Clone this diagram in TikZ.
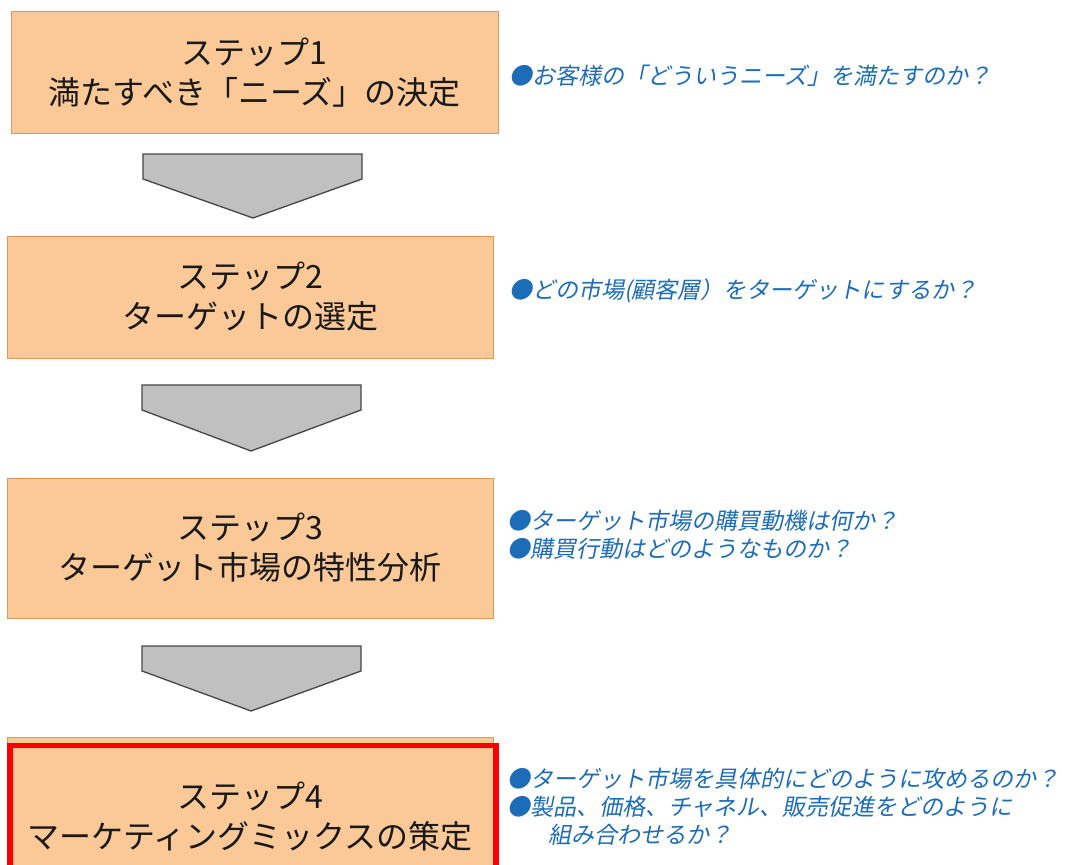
\documentclass[tikz,border=0pt]{standalone}
\usepackage{fontspec}
\setmainfont{Noto Sans CJK JP}
\newfontfamily\jpit[FakeSlant=0.2]{Noto Sans CJK JP}
\definecolor{boxfill}{RGB}{251,201,152}
\definecolor{boxline}{RGB}{226,150,90}
\definecolor{chevfill}{RGB}{192,192,192}
\definecolor{chevline}{RGB}{70,70,70}
\definecolor{notecol}{RGB}{28,108,184}
\definecolor{hilite}{RGB}{255,0,0}
\tikzset{
  stepbox/.style={draw=boxline, fill=boxfill, line width=1pt, rectangle, inner sep=0pt,
    align=center, text=black!90, font=\fontsize{32}{40}\selectfont},
  chev/.style={draw=chevline, fill=chevfill, line width=1.3pt, line join=miter},
  note/.style={anchor=west, align=left, text=notecol, inner sep=0pt,
    font=\jpit\fontsize{23}{28}\selectfont},
}
\begin{document}
\begin{tikzpicture}[x=1pt,y=-1pt]
\useasboundingbox (0,0) rectangle (1069,865);
\fill[white] (0,0) rectangle (1069,865);
% boxes
\node[stepbox, minimum width=487pt, minimum height=122pt] (b1) at (254.5,72.5) {ステップ1\\満たすべき「ニーズ」の決定};
\node[stepbox, minimum width=486pt, minimum height=122pt] (b2) at (250,297) {ステップ2\\ターゲットの選定};
\node[stepbox, minimum width=486pt, minimum height=140pt] (b3) at (250,548) {ステップ3\\ターゲット市場の特性分析};
\node[stepbox, minimum width=486pt, minimum height=160pt] (b4) at (250,817) {ステップ4\\マーケティングミックスの策定};
\draw[hilite, line width=5.5pt] (10,745.5) rectangle (496,900);
% chevrons
\draw[chev] (143,154) -- (362,154) -- (362,179) -- (253,218) -- (143,179) -- cycle;
\draw[chev] (142,385) -- (361,385) -- (361,410) -- (251,451) -- (142,410) -- cycle;
\draw[chev] (142,646) -- (361,646) -- (361,671) -- (251,711) -- (142,671) -- cycle;
% notes
\node[note] (n1) at (509,76) {●お客様の「どういうニーズ」を満たすのか？};
\node[note] (n2) at (509,291) {●どの市場(顧客層）をターゲットにするか？};
\node[note] (n3) at (507,535) {●ターゲット市場の購買動機は何か？\\●購買行動はどのようなものか？};
\node[note] (n4) at (507,806.5) {●ターゲット市場を具体的にどのように攻めるのか？\\●製品、価格、チャネル、販売促進をどのように\\\hspace*{41pt}組み合わせるか？};
\end{tikzpicture}
\end{document}
